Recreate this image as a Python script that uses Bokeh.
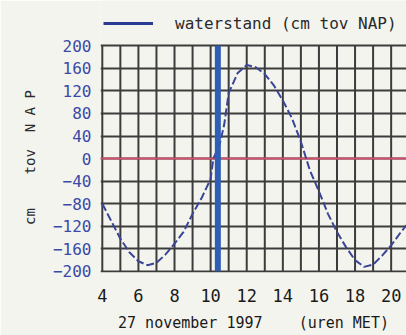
from bokeh.plotting import figure
from bokeh.models import (Range1d, FixedTicker, Span, Legend, LegendItem)
from bokeh.embed import file_html
from bokeh.resources import INLINE

# ---- data ----
hours = [4.0, 4.5, 5.0, 5.5, 6.0, 6.5, 7.0, 7.5, 8.0, 8.5, 9.0, 9.5, 10.0, 10.15,
         10.5, 10.75, 11.0, 11.5, 12.0, 12.5, 13.0, 13.5, 14.0, 14.5, 15.0, 15.5,
         16.0, 16.5, 17.0, 17.5, 18.0, 18.5, 19.0, 19.5, 20.0, 20.5, 20.85]
waterstand = [-80, -111, -142, -166, -182, -189, -185, -170, -151, -130, -98, -70, -36, 0,
              25, 60, 116, 152, 166, 162, 150, 130, 103, 72, 30, -21,
              -58, -98, -130, -157, -180, -192, -188, -172, -154, -132, -118]
now_hour = [10.4]
x_ticks = [4, 6, 8, 10, 12, 14, 16, 18, 20]
x_minor = [5, 7, 9, 11, 13, 15, 17, 19]
y_ticks = [-200, -160, -120, -80, -40, 0, 40, 80, 120, 160, 200]
legend_label = "waterstand (cm tov NAP)"
NB = "\u00a0"
x_title = "27 november 1997" + NB * 4 + "(uren MET)"
# trailing no-break spaces centre the rotated title on the -200..200 band
y_title = "cm" + NB * 4 + "tov" + NB * 2 + "N" + NB + "A" + NB + "P" + NB * 5

BG = "#f4f4ef"
GRID = "#3c3c3c"
MONO = "DejaVu Sans Mono"
y_lo, y_hi = y_ticks[0], y_ticks[-1]

p = figure(width=406, height=335, output_backend="svg", toolbar_location=None,
           x_range=Range1d(3.9, 20.85), y_range=Range1d(-202, 280.4),
           min_border_left=100, min_border_right=0, min_border_top=0, min_border_bottom=63,
           background_fill_color=BG, border_fill_color=BG, outline_line_color=None)

# horizontal grid lines from the y ticker
p.xaxis.ticker = FixedTicker(ticks=x_ticks, minor_ticks=x_minor)
p.yaxis.ticker = FixedTicker(ticks=y_ticks)
p.ygrid.grid_line_color = GRID
p.ygrid.grid_line_width = 2
p.xgrid.grid_line_color = None

# vertical (hourly) grid lines limited to the -200..200 band
v_lines = x_ticks + x_minor
p.segment(x0=v_lines, y0=[y_lo] * len(v_lines), x1=v_lines, y1=[y_hi] * len(v_lines),
          line_color=GRID, line_width=2, level="underlay")

# axes
for ax in (p.xaxis, p.yaxis):
    ax.axis_line_color = None
    ax.major_tick_line_color = None
    ax.minor_tick_line_color = None
    ax.major_tick_out = 0
    ax.minor_tick_out = 0
    ax.major_label_text_font = MONO
    ax.axis_label_text_font = MONO
    ax.axis_label_text_font_style = "normal"

p.xaxis.major_label_text_font_size = "17px"
p.xaxis.major_label_text_color = "#1a1a1a"
p.xaxis.major_label_standoff = 16
p.xaxis.axis_label = x_title
p.xaxis.axis_label_text_font_size = "15px"
p.xaxis.axis_label_text_color = "#1a1a1a"
p.xaxis.axis_label_standoff = 9

p.yaxis.bounds = (y_lo, y_hi)
p.yaxis.major_label_text_font_size = "16px"
p.yaxis.major_label_text_color = "#3a4aa5"
p.yaxis.major_label_standoff = 9
p.yaxis.axis_label = y_title
p.yaxis.axis_label_text_font_size = "14px"
p.yaxis.axis_label_text_color = "#2a2a2a"
p.yaxis.axis_label_standoff = 12

# zero line
zero = Span(location=0, dimension="width", line_color="#d4506e", line_width=2, level="underlay")
p.add_layout(zero)

# water level curve
p.line(hours, waterstand, line_color="#3a4595", line_width=2, line_dash="8 3")

# current time marker
p.segment(x0=now_hour, y0=[y_lo], x1=now_hour, y1=[y_hi], line_color="#2f5fb5", line_width=6)

# legend (solid sample line), placed above the grid
dummy = p.line(x=hours[:1], y=[float("nan")], line_color="#2b3a92", line_width=3)
legend = Legend(items=[LegendItem(label=legend_label, renderers=[dummy])],
                location=(3, 239), orientation="horizontal",
                glyph_width=50, glyph_height=20, label_standoff=22,
                padding=0, margin=0, spacing=0,
                label_text_font=MONO, label_text_font_size="16px",
                label_text_color="#2a2a2a",
                background_fill_alpha=0, border_line_color=None)
p.add_layout(legend)

open("out.html", "w").write(file_html(p, INLINE))
